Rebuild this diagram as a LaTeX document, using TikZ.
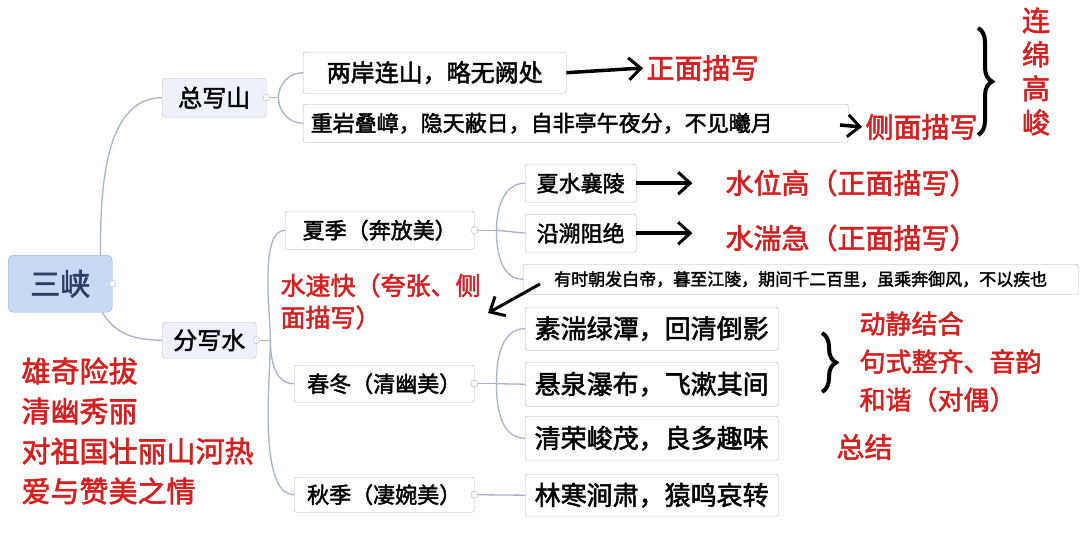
\documentclass[tikz,border=0pt]{standalone}
\usepackage{fontspec}
\newfontfamily\cjk{Noto Sans CJK SC}[BoldFont={Noto Sans CJK SC},BoldFeatures={FakeBold=2}]
\usetikzlibrary{arrows.meta,decorations.pathreplacing}
\definecolor{rootfill}{HTML}{C6DAF3}
\definecolor{rootdraw}{HTML}{8FAAD0}
\definecolor{subfill}{HTML}{EEF1FA}
\definecolor{linec}{HTML}{A9B2C8}
\definecolor{redt}{HTML}{D42020}
\definecolor{navy}{HTML}{2C3E66}
\tikzset{
  bx/.style={draw=black!30,rounded corners=2pt,fill=white,inner sep=0pt,anchor=north west},
  sub/.style={draw=black!25,rounded corners=3pt,fill=subfill,inner sep=0pt,anchor=north west},
  lk/.style={draw=linec,line width=1.3pt},
  rt/.style={text=redt,font=\cjk\bfseries\fontsize{28}{32}\selectfont,anchor=west},
  ar/.style={-{Straight Barb[length=12pt,width=22pt,line width=3pt]},line width=3.5pt,black},
  dot/.style={circle,draw=linec,fill=white,inner sep=0pt,minimum size=7pt},
  br/.style={decorate,decoration={brace,amplitude=14pt},line width=4pt},
}
\begin{document}
\begin{tikzpicture}[x=1pt,y=-1pt,font=\cjk\bfseries]
\useasboundingbox[fill=white] (0,0) rectangle (1080,542);
% nodes
\node[draw=rootdraw,fill=rootfill,rounded corners=5pt,minimum width=104pt,minimum height=57pt,anchor=north west,font=\cjk\bfseries\fontsize{30}{34}\selectfont,text=navy] (root) at (8,255) {三峡};
\node[sub,minimum width=104pt,minimum height=39pt,font=\cjk\bfseries\fontsize{24}{28}\selectfont] (shan) at (162,78) {总写山};
\node[sub,minimum width=94pt,minimum height=36pt,font=\cjk\bfseries\fontsize{24}{28}\selectfont] (shui) at (162,322) {分写水};
\node[bx,minimum width=263pt,minimum height=41pt,font=\cjk\bfseries\fontsize{24}{28}\selectfont] (a1) at (303,52) {两岸连山，略无阙处};
\node[bx,minimum width=545pt,minimum height=38pt,font=\cjk\bfseries\fontsize{22}{26}\selectfont,align=left,text width=530pt] (a2) at (303,104) {重岩叠嶂，隐天蔽日，自非亭午夜分，不见曦月};
\node[bx,minimum width=189pt,minimum height=38pt,font=\cjk\bfseries\fontsize{22}{26}\selectfont] (xia) at (285,211) {夏季（奔放美）};
\node[bx,minimum width=180pt,minimum height=37pt,font=\cjk\bfseries\fontsize{22}{26}\selectfont] (chun) at (294,365) {春冬（清幽美）};
\node[bx,minimum width=180pt,minimum height=35pt,font=\cjk\bfseries\fontsize{22}{26}\selectfont] (qiu) at (294,477) {秋季（凄婉美）};
\node[bx,minimum width=111pt,minimum height=38pt,font=\cjk\bfseries\fontsize{22}{26}\selectfont] (b1) at (525,164) {夏水襄陵};
\node[bx,minimum width=111pt,minimum height=38pt,font=\cjk\bfseries\fontsize{22}{26}\selectfont] (b2) at (525,214) {沿溯阻绝};
\node[bx,minimum width=555pt,minimum height=30pt,font=\cjk\bfseries\fontsize{17}{20}\selectfont] (b3) at (523,264) {有时朝发白帝，暮至江陵，期间千二百里，虽乘奔御风，不以疾也};
\node[bx,minimum width=253pt,minimum height=43pt,font=\cjk\bfseries\fontsize{26}{30}\selectfont] (c1) at (525,307) {素湍绿潭，回清倒影};
\node[bx,minimum width=253pt,minimum height=44pt,font=\cjk\bfseries\fontsize{26}{30}\selectfont] (c2) at (525,362) {悬泉瀑布，飞漱其间};
\node[bx,minimum width=253pt,minimum height=44pt,font=\cjk\bfseries\fontsize{26}{30}\selectfont] (c3) at (525,416) {清荣峻茂，良多趣味};
\node[bx,minimum width=253pt,minimum height=42pt,font=\cjk\bfseries\fontsize{26}{30}\selectfont] (d1) at (525,474) {林寒涧肃，猿鸣哀转};
% links
\draw[lk] (root.north east)++(-12,0) to[out=90,in=180,looseness=0.9] (shan.west);
\draw[lk] (root.south east)++(-10,0) to[out=-60,in=180] (shui.west);
\draw[lk] (shan.east) -- ++(12,0) coordinate (s1);
\draw[lk] (s1) to[out=90,in=180] (a1.west);
\draw[lk] (s1) to[out=-90,in=180] (a2.west);
\draw[lk] (shui.east) -- ++(14,0) coordinate (w1);
\draw[lk] (w1) to[out=90,in=180,looseness=0.6] (xia.west);
\draw[lk] (w1) to[out=-90,in=180] (chun.west);
\draw[lk] (w1) to[out=-90,in=180,looseness=0.6] (qiu.west);
\draw[lk] (xia.east) -- ++(22,0) coordinate (x1);
\draw[lk] (x1) to[out=90,in=180] (b1.west);
\draw[lk] (x1) -- (b2.west);
\draw[lk] (x1) to[out=-90,in=180] (b3.west);
\draw[lk] (chun.east) -- ++(22,0) coordinate (c0);
\draw[lk] (c0) to[out=90,in=180] (c1.west);
\draw[lk] (c0) -- (c2.west);
\draw[lk] (c0) to[out=-90,in=180] (c3.west);
\draw[lk] (qiu.east) -- (d1.west);
\foreach \n in {root,shan,shui,xia,chun,qiu} \node[dot] at (\n.east) {};
% red labels
\node[rt] (r1) at (643,68) {正面描写};
\node[rt] (r2) at (862,127) {侧面描写};
\node[rt,anchor=north,align=center,font=\cjk\bfseries\fontsize{28}{34}\selectfont] (r3) at (1036,4) {连\\绵\\高\\峻};
\node[rt] (r4) at (722,183) {水位高（正面描写）};
\node[rt] (r5) at (722,238) {水湍急（正面描写）};
\node[rt,anchor=north west,align=left,font=\cjk\bfseries\fontsize{25}{32}\selectfont] (r6) at (277,270) {水速快（夸张、侧\\面描写）};
\node[rt,anchor=north west,align=left,font=\cjk\bfseries\fontsize{26}{38}\selectfont] (r7) at (856,308) {动静结合\\句式整齐、音韵\\和谐（对偶）};
\node[rt] (r8) at (833,447) {总结};
\node[rt,anchor=north west,align=left,font=\cjk\bfseries\fontsize{29}{40}\selectfont] (r9) at (18,354) {雄奇险拔\\清幽秀丽\\对祖国壮丽山河热\\爱与赞美之情};
% arrows
\draw[ar] (a1.east) -- (r1.west);
\draw[ar] (840,125) -- (r2.west);
\draw[ar] (b1.east) -- ++(56,0);
\draw[ar] (b2.east) -- ++(56,0);
\draw[ar,line width=3pt] (540,284) -- (488,313);
\draw[br] (978,28) -- (978,135);
\draw[br] (822,333) -- (822,392);
\end{tikzpicture}
\end{document}
